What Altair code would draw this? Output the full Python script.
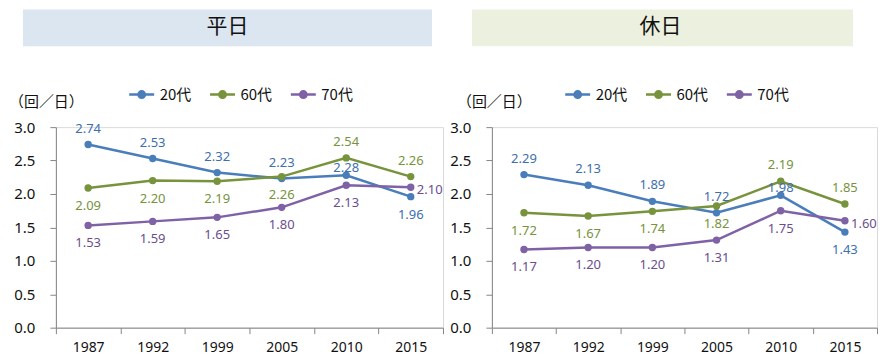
import altair as alt
import pandas as pd

years = ["1987", "1992", "1999", "2005", "2010", "2015"]
series = ["20代", "60代", "70代"]

weekday_20 = [2.74, 2.53, 2.32, 2.23, 2.28, 1.96]
weekday_60 = [2.09, 2.20, 2.19, 2.26, 2.54, 2.26]
weekday_70 = [1.53, 1.59, 1.65, 1.80, 2.13, 2.10]

holiday_20 = [2.29, 2.13, 1.89, 1.72, 1.98, 1.43]
holiday_60 = [1.72, 1.67, 1.74, 1.82, 2.19, 1.85]
holiday_70 = [1.17, 1.20, 1.20, 1.31, 1.75, 1.60]

# where each data label sits relative to its point
place_20 = ["above", "above", "above", "above", "close", "below"]
place_60 = ["below", "below", "below", "below", "above", "above"]
place_70 = ["below", "below", "below", "below", "below", "right"]

y_ticks = [0.0, 0.5, 1.0, 1.5, 2.0, 2.5, 3.0]

line_colors = ["#4a7ebb", "#77933c", "#7f62a6"]
label_colors = ["#3d6fae", "#77933c", "#6a4f8f"]

FONT = "Noto Sans CJK JP"
NUM_FONT = "Noto Sans"
SYMBOL = "M-1,0H1M-0.26,0A0.26,0.26,0,1,1,0.26,0A0.26,0.26,0,1,1,-0.26,0Z"


def make_df(v20, v60, v70):
    rows = []
    for s, vals, places in zip(series, [v20, v60, v70], [place_20, place_60, place_70]):
        for y, v, p in zip(years, vals, places):
            rows.append({"year": y, "series": s, "value": v, "pos": p})
    return pd.DataFrame(rows)


def make_legend():
    return alt.Legend(
        title=None, orient="none", legendX=72, legendY=-47,
        direction="horizontal", symbolType=SYMBOL, symbolSize=625,
        symbolStrokeWidth=2.5, labelFont=FONT, labelFontSize=15,
        labelColor="#111111", labelOffset=4, columnPadding=13,
    )


def panel(df, title, box_color, width, box_x, box_x2, title_x, unit_x):
    base = alt.Chart(df).encode(
        x=alt.X("year:O", sort=years,
                scale=alt.Scale(type="band", paddingInner=0, paddingOuter=0),
                axis=alt.Axis(title=None, tickBand="extent", labelAngle=0,
                              labelFont=NUM_FONT, labelFontSize=14, labelColor="#111111",
                              domainColor="#868686", tickColor="#868686",
                              tickSize=6, labelPadding=7)),
        y=alt.Y("value:Q", scale=alt.Scale(domain=[0, 3], nice=False),
                axis=alt.Axis(title=None, values=y_ticks, format=".1f", grid=False,
                              labelFont=NUM_FONT, labelFontSize=15, labelColor="#111111",
                              domainColor="#868686", tickColor="#868686",
                              tickSize=6, labelPadding=15)),
    )
    lines = base.mark_line(strokeWidth=2.5).encode(
        stroke=alt.Stroke("series:N", scale=alt.Scale(domain=series, range=line_colors),
                          legend=make_legend())
    )
    points = base.mark_point(filled=True, size=55, opacity=1).encode(
        fill=alt.Fill("series:N", scale=alt.Scale(domain=series, range=line_colors),
                      legend=make_legend())
    )
    lab_color = alt.Color("series:N", scale=alt.Scale(domain=series, range=label_colors),
                          legend=None)
    offsets = {"above": (0, -16), "close": (0, -7), "below": (0, 18), "right": (19, 3)}
    labels = []
    for p, (dx, dy) in offsets.items():
        labels.append(
            base.transform_filter(alt.datum.pos == p)
            .mark_text(font=NUM_FONT, fontSize=13, dx=dx, dy=dy)
            .encode(text=alt.Text("value:Q", format=".2f"), color=lab_color)
        )

    tdf = pd.DataFrame({"t": [title], "u": ["（回／日）"]})
    box = alt.Chart(tdf).mark_rect(color=box_color).encode(
        x=alt.value(box_x), x2=alt.value(box_x2), y=alt.value(-118), y2=alt.value(-81)
    )
    ttext = alt.Chart(tdf).mark_text(font=FONT, fontSize=21, color="#111111").encode(
        text="t:N", x=alt.value(title_x), y=alt.value(-100)
    )
    unit = alt.Chart(tdf).mark_text(font=FONT, fontSize=15, color="#111111",
                                    align="left").encode(
        text="u:N", x=alt.value(unit_x), y=alt.value(-25)
    )
    return alt.layer(box, ttext, unit, lines, points, *labels).properties(
        width=width, height=201
    )


left = panel(make_df(weekday_20, weekday_60, weekday_70), "平日", "#dce6f1",
             388, -33, 377, 172, -47)
right = panel(make_df(holiday_20, holiday_60, holiday_70), "休日", "#ebf1de",
              386, -20, 362, 169, -35)

chart = (
    alt.hconcat(left, right, spacing=5)
    .resolve_legend(fill="independent", stroke="independent")
    .properties(padding={"left": 0, "top": 0, "right": 0, "bottom": 0})
    .configure_view(stroke="#d9d9d9")
)

chart.save("out.html", embed_options={"renderer": "svg", "actions": False})
